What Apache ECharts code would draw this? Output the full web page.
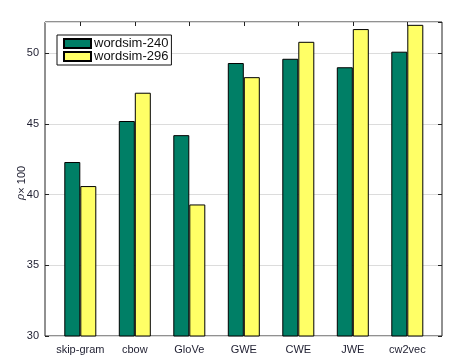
<!DOCTYPE html>
<html><head><meta charset="utf-8">
<script src="https://cdn.jsdelivr.net/npm/echarts@6/dist/echarts.min.js"></script>
<style>html,body{margin:0;padding:0;background:#fff}#c{width:465px;height:362px}</style>
</head><body><div id="c"></div>
<script>
const categories = ['skip-gram','cbow','GloVe','GWE','CWE','JWE','cw2vec'];
const ws240 = [42.3, 45.2, 44.2, 49.3, 49.6, 49.0, 50.1];
const ws296 = [40.6, 47.2, 39.3, 48.3, 50.8, 51.7, 52.0];
const seriesNames = ['wordsim-240','wordsim-296'];
const yMin = 30, yMax = 52.2, yStep = 5;

const txt = '#1e1e30';
const font = 'Liberation Sans, Arial, sans-serif';
const chart = echarts.init(document.getElementById('c'), null, {renderer:'canvas'});
chart.setOption({
  animation:false,
  grid:[
    {left:45, right:23, top:22, bottom:26, show:true, borderColor:'#222', borderWidth:1, backgroundColor:'transparent'},
    {left:53.05, right:30.45, top:22, bottom:26}
  ],
  legend:{
    data:seriesNames, orient:'vertical', left:57, top:35, icon:'rect',
    itemWidth:27, itemHeight:9, itemGap:0,
    padding:[2,3,2,6], borderColor:'#111', borderWidth:1, backgroundColor:'#fff',
    textStyle:{fontFamily:font, fontSize:13, color:'#111', lineHeight:12, padding:[0,0,0,-2]}
  },
  xAxis:[
    {gridIndex:0, type:'value', min:0, max:1, show:false},
    {gridIndex:1, type:'category', data:categories, position:'bottom',
     axisLine:{show:false}, axisTick:{show:false},
     axisLabel:{interval:0, fontFamily:font, fontSize:11, color:txt, margin:8}},
    {gridIndex:1, type:'category', data:categories, position:'top',
     axisLine:{show:false}, axisTick:{show:true, interval:0, inside:true, alignWithLabel:true, length:4, lineStyle:{color:'#222'}},
     axisLabel:{show:false}}
  ],
  yAxis:[
    {gridIndex:0, type:'value', min:yMin, max:yMax, interval:yStep,
     axisLine:{show:false}, axisTick:{show:true, inside:true, length:4, lineStyle:{color:'#222'}},
     splitLine:{show:true, lineStyle:{color:'#dcdcdc'}},
     axisLabel:{fontFamily:font, fontSize:11, color:txt, margin:6, showMaxLabel:false},
     name:'{i|ρ}× 100', nameLocation:'middle', nameGap:18, nameMoveOverlap:false,
     nameTextStyle:{fontFamily:font, fontSize:11, color:txt, padding:[0,0,0,-8], rich:{i:{fontStyle:'italic', fontFamily:'DejaVu Serif, serif', fontSize:11, color:txt}}}},
    {gridIndex:0, type:'value', min:yMin, max:yMax, interval:yStep, position:'right',
     axisLine:{show:false}, axisTick:{show:true, inside:true, length:4, lineStyle:{color:'#222'}},
     splitLine:{show:false}, axisLabel:{show:false}},
    {gridIndex:1, type:'value', min:yMin, max:yMax, show:false, splitLine:{show:false}}
  ],
  series:[
    {name:seriesNames[0], type:'bar', xAxisIndex:1, yAxisIndex:2, data:ws240, barWidth:16, barGap:'0%',
     itemStyle:{color:'#007f66', borderColor:'#000', borderWidth:1}},
    {name:seriesNames[1], type:'bar', xAxisIndex:1, yAxisIndex:2, data:ws296, barWidth:16, barGap:'0%',
     itemStyle:{color:'#ffff66', borderColor:'#000', borderWidth:1}}
  ]
});
</script></body></html>
